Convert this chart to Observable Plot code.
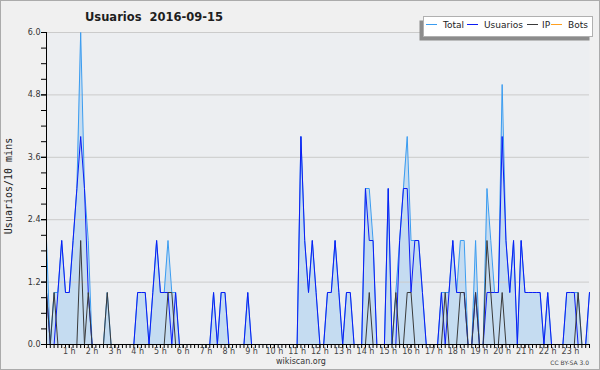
<!DOCTYPE html>
<html>
<head>
<meta charset="utf-8">
<script src="https://cdn.jsdelivr.net/npm/d3@7"></script>
<script src="https://cdn.jsdelivr.net/npm/@observablehq/plot@0.6"></script>
<style>
  html, body { margin: 0; padding: 0; background: #f0f0f0; }
  svg { display: block; }
</style>
</head>
<body>
<div id="chart"></div>
<script>
// ---- Data ----
const title = "Usuarios  2016-09-15";
const yLabel = "Usuarios/10 mins";
const seriesNames = ["Total", "Usuarios", "IP", "Bots"];
const seriesColors = ["#3a9cf0", "#0c1cf4", "#3a3a3a", "#ffa020"];

// one value per 10-minute slot (144 slots, 00:00 .. 23:50)
const total = [
  2,0,1,1,2,1,1,2,3,6,3,2,
  0,0,0,0,1,0,0,0,0,0,0,0,
  1,1,1,0,1,2,1,1,2,1,1,0,
  0,0,0,0,0,0,0,0,1,0,1,1,
  0,0,0,0,0,1,0,0,0,0,0,0,
  0,0,0,0,0,0,0,4,2,1,2,1,
  0,0,1,1,2,1,0,1,1,0,0,0,
  3,3,2,0,0,0,3,0,1,2,3,4,
  2,2,2,1,0,0,0,0,1,1,1,2,
  1,2,2,0,0,2,0,0,3,2,1,1,
  5,2,1,2,0,2,1,1,1,1,1,0,
  1,0,0,0,0,1,1,1,1,0,0,1
];
const usuarios = [
  1,0,0,1,2,1,1,2,3,4,3,1,
  0,0,0,0,0,0,0,0,0,0,0,0,
  1,1,1,0,1,2,1,1,1,0,1,0,
  0,0,0,0,0,0,0,0,1,0,1,1,
  0,0,0,0,0,1,0,0,0,0,0,0,
  0,0,0,0,0,0,0,4,2,1,2,1,
  0,0,1,1,2,1,0,1,1,0,0,0,
  3,2,2,0,0,0,3,0,0,2,3,3,
  1,2,2,1,0,0,0,0,1,0,1,2,
  1,1,1,0,0,1,0,0,1,1,1,1,
  4,2,1,2,0,2,1,1,1,1,1,0,
  1,0,0,0,0,1,1,1,0,0,0,1
];
const ip = [
  1,0,1,0,0,0,0,0,0,2,0,1,
  0,0,0,0,1,0,0,0,0,0,0,0,
  0,0,0,0,0,0,0,0,1,1,0,0,
  0,0,0,0,0,0,0,0,0,0,0,0,
  0,0,0,0,0,0,0,0,0,0,0,0,
  0,0,0,0,0,0,0,0,0,0,0,0,
  0,0,0,0,0,0,0,0,0,0,0,0,
  0,1,0,0,0,0,0,0,1,0,0,1,
  1,0,0,0,0,0,0,0,0,1,0,0,
  0,1,1,0,0,1,0,0,2,1,0,0,
  1,0,0,0,0,0,0,0,0,0,0,0,
  0,0,0,0,0,0,0,0,1,0,0,0
];
const bots = [
  0,0,0,0,0,0,0,0,0,0,0,0,
  0,0,0,0,0,0,0,0,0,0,0,0,
  0,0,0,0,0,0,0,0,0,0,0,0,
  0,0,0,0,0,0,0,0,0,0,0,0,
  0,0,0,0,0,0,0,0,0,0,0,0,
  0,0,0,0,0,0,0,0,0,0,0,0,
  0,0,0,0,0,0,0,0,0,0,0,0,
  0,0,0,0,0,0,0,0,0,0,0,0,
  0,0,0,0,0,0,0,0,0,0,0,0,
  0,0,0,0,0,0,0,0,0,0,0,0,
  0,0,0,0,0,0,0,0,0,0,0,0,
  0,0,0,0,0,0,0,0,0,0,0,0
];

const yTicks = [0, 1.2, 2.4, 3.6, 4.8, 6.0];
const yTickLabels = ["0.0", "1.2", "2.4", "3.6", "4.8", "6.0"];
const yMinorTicks = [0,0.3,0.6,0.9,1.2,1.5,1.8,2.1,2.4,2.7,3.0,3.3,3.6,3.9,4.2,4.5,4.8,5.1,5.4,5.7,6.0];
const hourLabels = ["1 h","2 h","3 h","4 h","5 h","6 h","7 h","8 h","9 h","10 h","11 h","12 h",
                    "13 h","14 h","15 h","16 h","17 h","18 h","19 h","20 h","21 h","22 h","23 h"];
const hourSlots = [6,12,18,24,30,36,42,48,54,60,66,72,78,84,90,96,102,108,114,120,126,132,138];

// ---- Build table ----
const slots = d3.range(total.length);
const rows = slots.map(i => ({slot: i, Total: total[i], Usuarios: usuarios[i], IP: ip[i], Bots: bots[i]}));
const color = Object.fromEntries(seriesNames.map((n, i) => [n, seriesColors[i]]));

const W = 600, H = 370;
const chart = Plot.plot({
  width: W,
  height: H,
  marginTop: 32,
  marginRight: 11,
  marginBottom: 26,
  marginLeft: 46,
  x: {domain: [0, total.length - 1], axis: null},
  y: {domain: [0, 6], axis: null},
  style: {background: "#f0f0f0", fontFamily: "DejaVu Sans", overflow: "visible"},
  marks: [
    Plot.frame({fill: "#eceef1", stroke: null}),
    Plot.areaY(rows, {x: "slot", y: "Total", fill: "#c5dcf1"}),
    Plot.ruleY(yTicks.filter(d => d > 0), {stroke: "#cbcbcb", strokeWidth: 1}),
    Plot.lineY(rows, {x: "slot", y: "Total", stroke: color.Total, strokeWidth: 1}),
    Plot.lineY(rows, {x: "slot", y: "Usuarios", stroke: color.Usuarios, strokeWidth: 1}),
    Plot.lineY(rows, {x: "slot", y: "IP", stroke: color.IP, strokeWidth: 1}),
    Plot.lineY(rows, {x: "slot", y: "Bots", stroke: color.Bots, strokeWidth: 1}),
    Plot.ruleX([0], {stroke: "#000"}),
    Plot.ruleY([0], {stroke: "#000"}),
    Plot.axisY({ticks: yMinorTicks, tickSize: 5, tickFormat: () => "", stroke: "#000", label: null}),
    Plot.axisY({ticks: yTicks, tickSize: 5, tickPadding: 1, fontSize: 8, fill: "#333", stroke: "#000", label: null,
                tickFormat: d => yTickLabels[yTicks.indexOf(d)]}),
    Plot.axisX({ticks: slots, tickSize: 4, tickFormat: () => "", stroke: "#000", label: null}),
    Plot.axisX({ticks: hourSlots, tickSize: 4, tickPadding: 0, fontSize: 8, fill: "#444", stroke: "#000", label: null,
                tickFormat: d => hourLabels[hourSlots.indexOf(d)]})
  ]
});

const svg = d3.select(chart);

// outer border
svg.append("rect").attr("x", 0.5).attr("y", 0.5).attr("width", W - 1).attr("height", H - 1)
  .attr("fill", "none").attr("stroke", "#ababab");

// title
svg.append("text").attr("x", 85).attr("y", 21)
  .attr("text-anchor", "start")
  .style("white-space", "pre")
  .attr("font-family", "DejaVu Sans").attr("font-weight", "bold").attr("font-size", 11.5)
  .attr("fill", "#1e1e1e").text(title);

// y label
svg.append("text").attr("transform", "translate(12,186) rotate(-90)")
  .attr("text-anchor", "middle").attr("font-family", "DejaVu Sans Mono").attr("font-size", 10)
  .attr("fill", "#222").text(yLabel);

// footer
svg.append("text").attr("x", 301).attr("y", 364).attr("text-anchor", "middle")
  .attr("font-family", "DejaVu Sans").attr("font-size", 8).attr("fill", "#333").text("wikiscan.org");
svg.append("text").attr("x", 589).attr("y", 365).attr("text-anchor", "end")
  .attr("font-family", "DejaVu Sans").attr("font-size", 6).attr("fill", "#444").text("CC BY-SA 3.0");

// legend
const lg = svg.append("g");
lg.append("rect").attr("x", 419.5).attr("y", 20.5).attr("width", 170).attr("height", 20).attr("fill", "#8c8c8c");
lg.append("rect").attr("x", 423.5).attr("y", 16.5).attr("width", 169).attr("height", 20)
  .attr("fill", "#fff").attr("stroke", "#b0b0b0");
const legendLineX = [426, 467, 527, 551];
const legendTextX = [443, 484, 542, 568];
seriesNames.forEach((n, i) => {
  lg.append("line").attr("x1", legendLineX[i]).attr("x2", legendLineX[i] + 11)
    .attr("y1", 24.5).attr("y2", 24.5).attr("stroke", seriesColors[i]).attr("stroke-width", 1);
  lg.append("text").attr("x", legendTextX[i]).attr("y", 28).attr("text-anchor", "start")
    .attr("font-family", "DejaVu Sans").attr("font-size", 9).attr("fill", "#222").text(n);
});

document.getElementById("chart").appendChild(chart);
</script>
</body>
</html>
